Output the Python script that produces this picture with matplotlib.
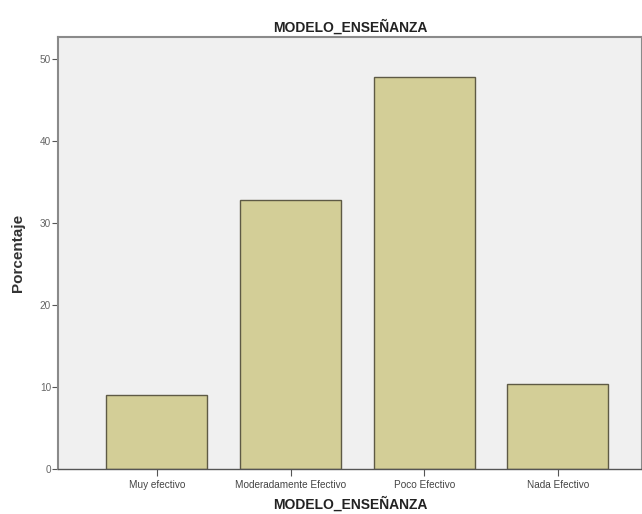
import matplotlib
matplotlib.use("Agg")
import matplotlib.pyplot as plt

categories = ["Muy efectivo", "Moderadamente Efectivo", "Poco Efectivo", "Nada Efectivo"]
porcentaje = [9.0, 32.8, 47.8, 10.4]
yticks = [0, 10, 20, 30, 40, 50]

plt.rcParams['font.family'] = ['Liberation Sans', 'DejaVu Sans']

fig = plt.figure(figsize=(6.42, 5.14), dpi=100)
ax = fig.add_axes([58/642, 45.3/514, 584/642, 431.4/514])
ax.set_facecolor('#f0f0f0')

x = list(range(len(categories)))
ax.bar(x, porcentaje, width=0.755, color='#d3ce97', edgecolor='#5e5a45', linewidth=1.0, zorder=2)

ax.set_xlim(-0.74, 3.63)
ax.set_ylim(0, 52.7)
ax.set_xticks(x)
ax.set_xticklabels(categories, fontsize=7.2, color='#444444')
ax.set_yticks(yticks)
ax.set_yticklabels([str(t) for t in yticks], fontsize=7.2, color='#666666')
ax.tick_params(axis='x', direction='out', length=5, width=0.8, color='#555555', pad=3)
ax.tick_params(axis='y', direction='out', length=4, width=0.8, color='#555555', pad=1)

for s in ['left', 'bottom', 'top', 'right']:
    ax.spines[s].set_color('#8a8a8a')
    ax.spines[s].set_linewidth(1.5)
ax.spines['bottom'].set_color('#555555')
ax.spines['bottom'].set_linewidth(1.0)

ax.set_title("MODELO_ENSEÑANZA", fontsize=10, fontweight='bold', color='#222222', pad=4)
ax.set_xlabel("MODELO_ENSEÑANZA", fontsize=10, fontweight='bold', color='#222222', labelpad=5)
ax.set_ylabel("Porcentaje", fontsize=11, fontweight='bold', color='#333333', labelpad=11)

fig.savefig("out.png", dpi=100, facecolor='white')
